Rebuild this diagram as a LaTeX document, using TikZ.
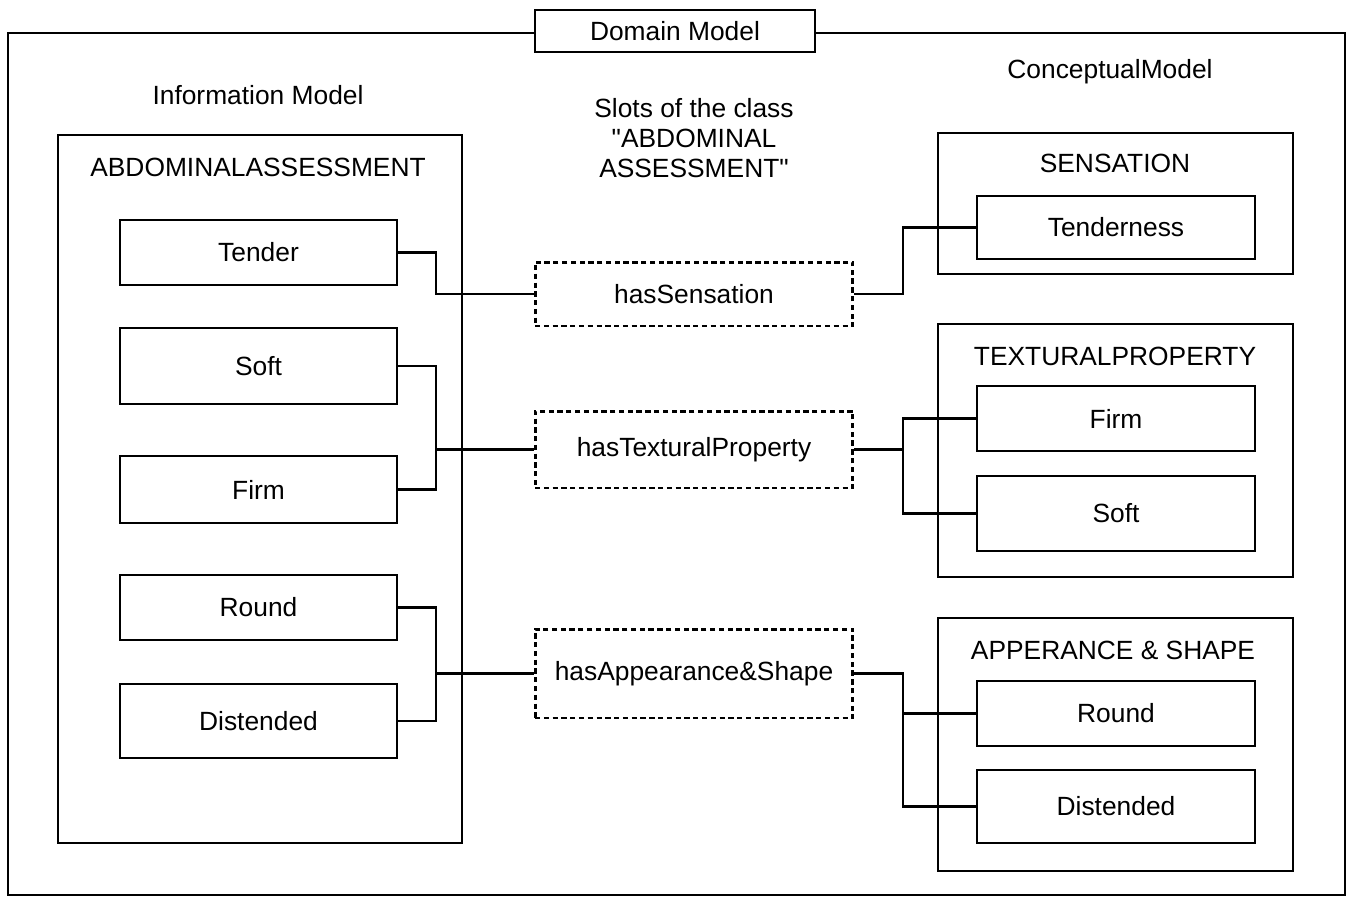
\documentclass[tikz,border=0pt]{standalone}
\usepackage{fontspec}
\setmainfont{Liberation Sans}[Ligatures=TeXOff]
\begin{document}
\begin{tikzpicture}[x=0.02cm, y=-0.02cm, line width=1.3pt,
  font=\fontsize{15}{17}\selectfont,
  item/.style={draw, minimum width=#1, inner sep=0pt},
  slot/.style={draw, dash pattern=on 3pt off 2pt, line width=1.7pt,
               minimum width=6.36cm, inner sep=0pt},
  group/.style={draw, minimum width=#1, inner sep=0pt}
]
  \useasboundingbox (0,0) rectangle (1350,897);
  % outer frame
  \draw (8,33) rectangle (1345,895);
  \node[draw, fill=white, minimum width=5.6cm, minimum height=0.84cm, inner sep=0pt]
        (domain) at (675,31) {Domain Model};
  \node (infolbl) at (258,95) {Information Model};
  \node (conclbl) at (1110,72) {ConceptualModel};
  \node[align=center] (slotlbl) at (694,138)
        {Slots of the class\\"ABDOMINAL\\ASSESSMENT"};
  % information model
  \node[group=8.08cm, minimum height=14.16cm] (abd) at (260,489) {};
  \node (abdlbl) at (258,167) {ABDOMINALASSESSMENT};
  \node[item=5.54cm, minimum height=1.3cm]  (tender)  at (258.5,252.5) {Tender};
  \node[item=5.54cm, minimum height=1.52cm] (softL)   at (258.5,366)   {Soft};
  \node[item=5.54cm, minimum height=1.34cm] (firmL)   at (258.5,489.5) {Firm};
  \node[item=5.54cm, minimum height=1.3cm]  (roundL)  at (258.5,607.5) {Round};
  \node[item=5.54cm, minimum height=1.48cm] (distL)   at (258.5,721)   {Distended};
  % slots
  \node[slot, minimum height=1.28cm] (sens)   at (694,294)   {hasSensation};
  \node[slot, minimum height=1.54cm] (texslot) at (694,449.5) {hasTexturalProperty};
  \node[slot, minimum height=1.78cm] (appslot) at (694,673.5) {hasAppearance\&Shape};
  % conceptual model
  \node[group=7.1cm, minimum height=2.82cm] (sensgrp) at (1115.5,203.5) {};
  \node[group=7.1cm, minimum height=5.06cm] (texgrp)  at (1115.5,450.5) {};
  \node[group=7.1cm, minimum height=5.06cm] (appgrp)  at (1115.5,744.5) {};
  \node (senslbl) at (1115,163) {SENSATION};
  \node (texlbl)  at (1115,356) {TEXTURALPROPERTY};
  \node (applbl)  at (1113,650) {APPERANCE \& SHAPE};
  \node[item=5.56cm, minimum height=1.26cm] (tenderness) at (1116,227.5) {Tenderness};
  \node[item=5.56cm, minimum height=1.3cm]  (firmR)  at (1116,418.5) {Firm};
  \node[item=5.56cm, minimum height=1.5cm]  (softR)  at (1116,513.5) {Soft};
  \node[item=5.56cm, minimum height=1.3cm]  (roundR) at (1116,713.5) {Round};
  \node[item=5.56cm, minimum height=1.46cm] (distR)  at (1116,806.5) {Distended};
  % connectors
  \coordinate (jl) at (436,0);
  \coordinate (jr) at (903,0);
  \draw (tender.east) -| (jl |- sens.west) -- (sens.west);
  \draw (sens.east) -| (jr |- tenderness.west) -- (tenderness.west);
  \draw (softL.east) -| (jl |- firmL.east) -- (firmL.east);
  \draw (texslot.west) -- (texslot.west -| jl);
  \draw (firmR.west) -| (jr |- softR.west) -- (softR.west);
  \draw (texslot.east) -- (texslot.east -| jr);
  \draw (roundL.east) -| (jl |- distL.east) -- (distL.east);
  \draw (appslot.west) -- (appslot.west -| jl);
  \draw (appslot.east) -| (jr |- distR.west) -- (distR.west);
  \draw (roundR.west) -- (roundR.west -| jr);
\end{tikzpicture}
\end{document}
